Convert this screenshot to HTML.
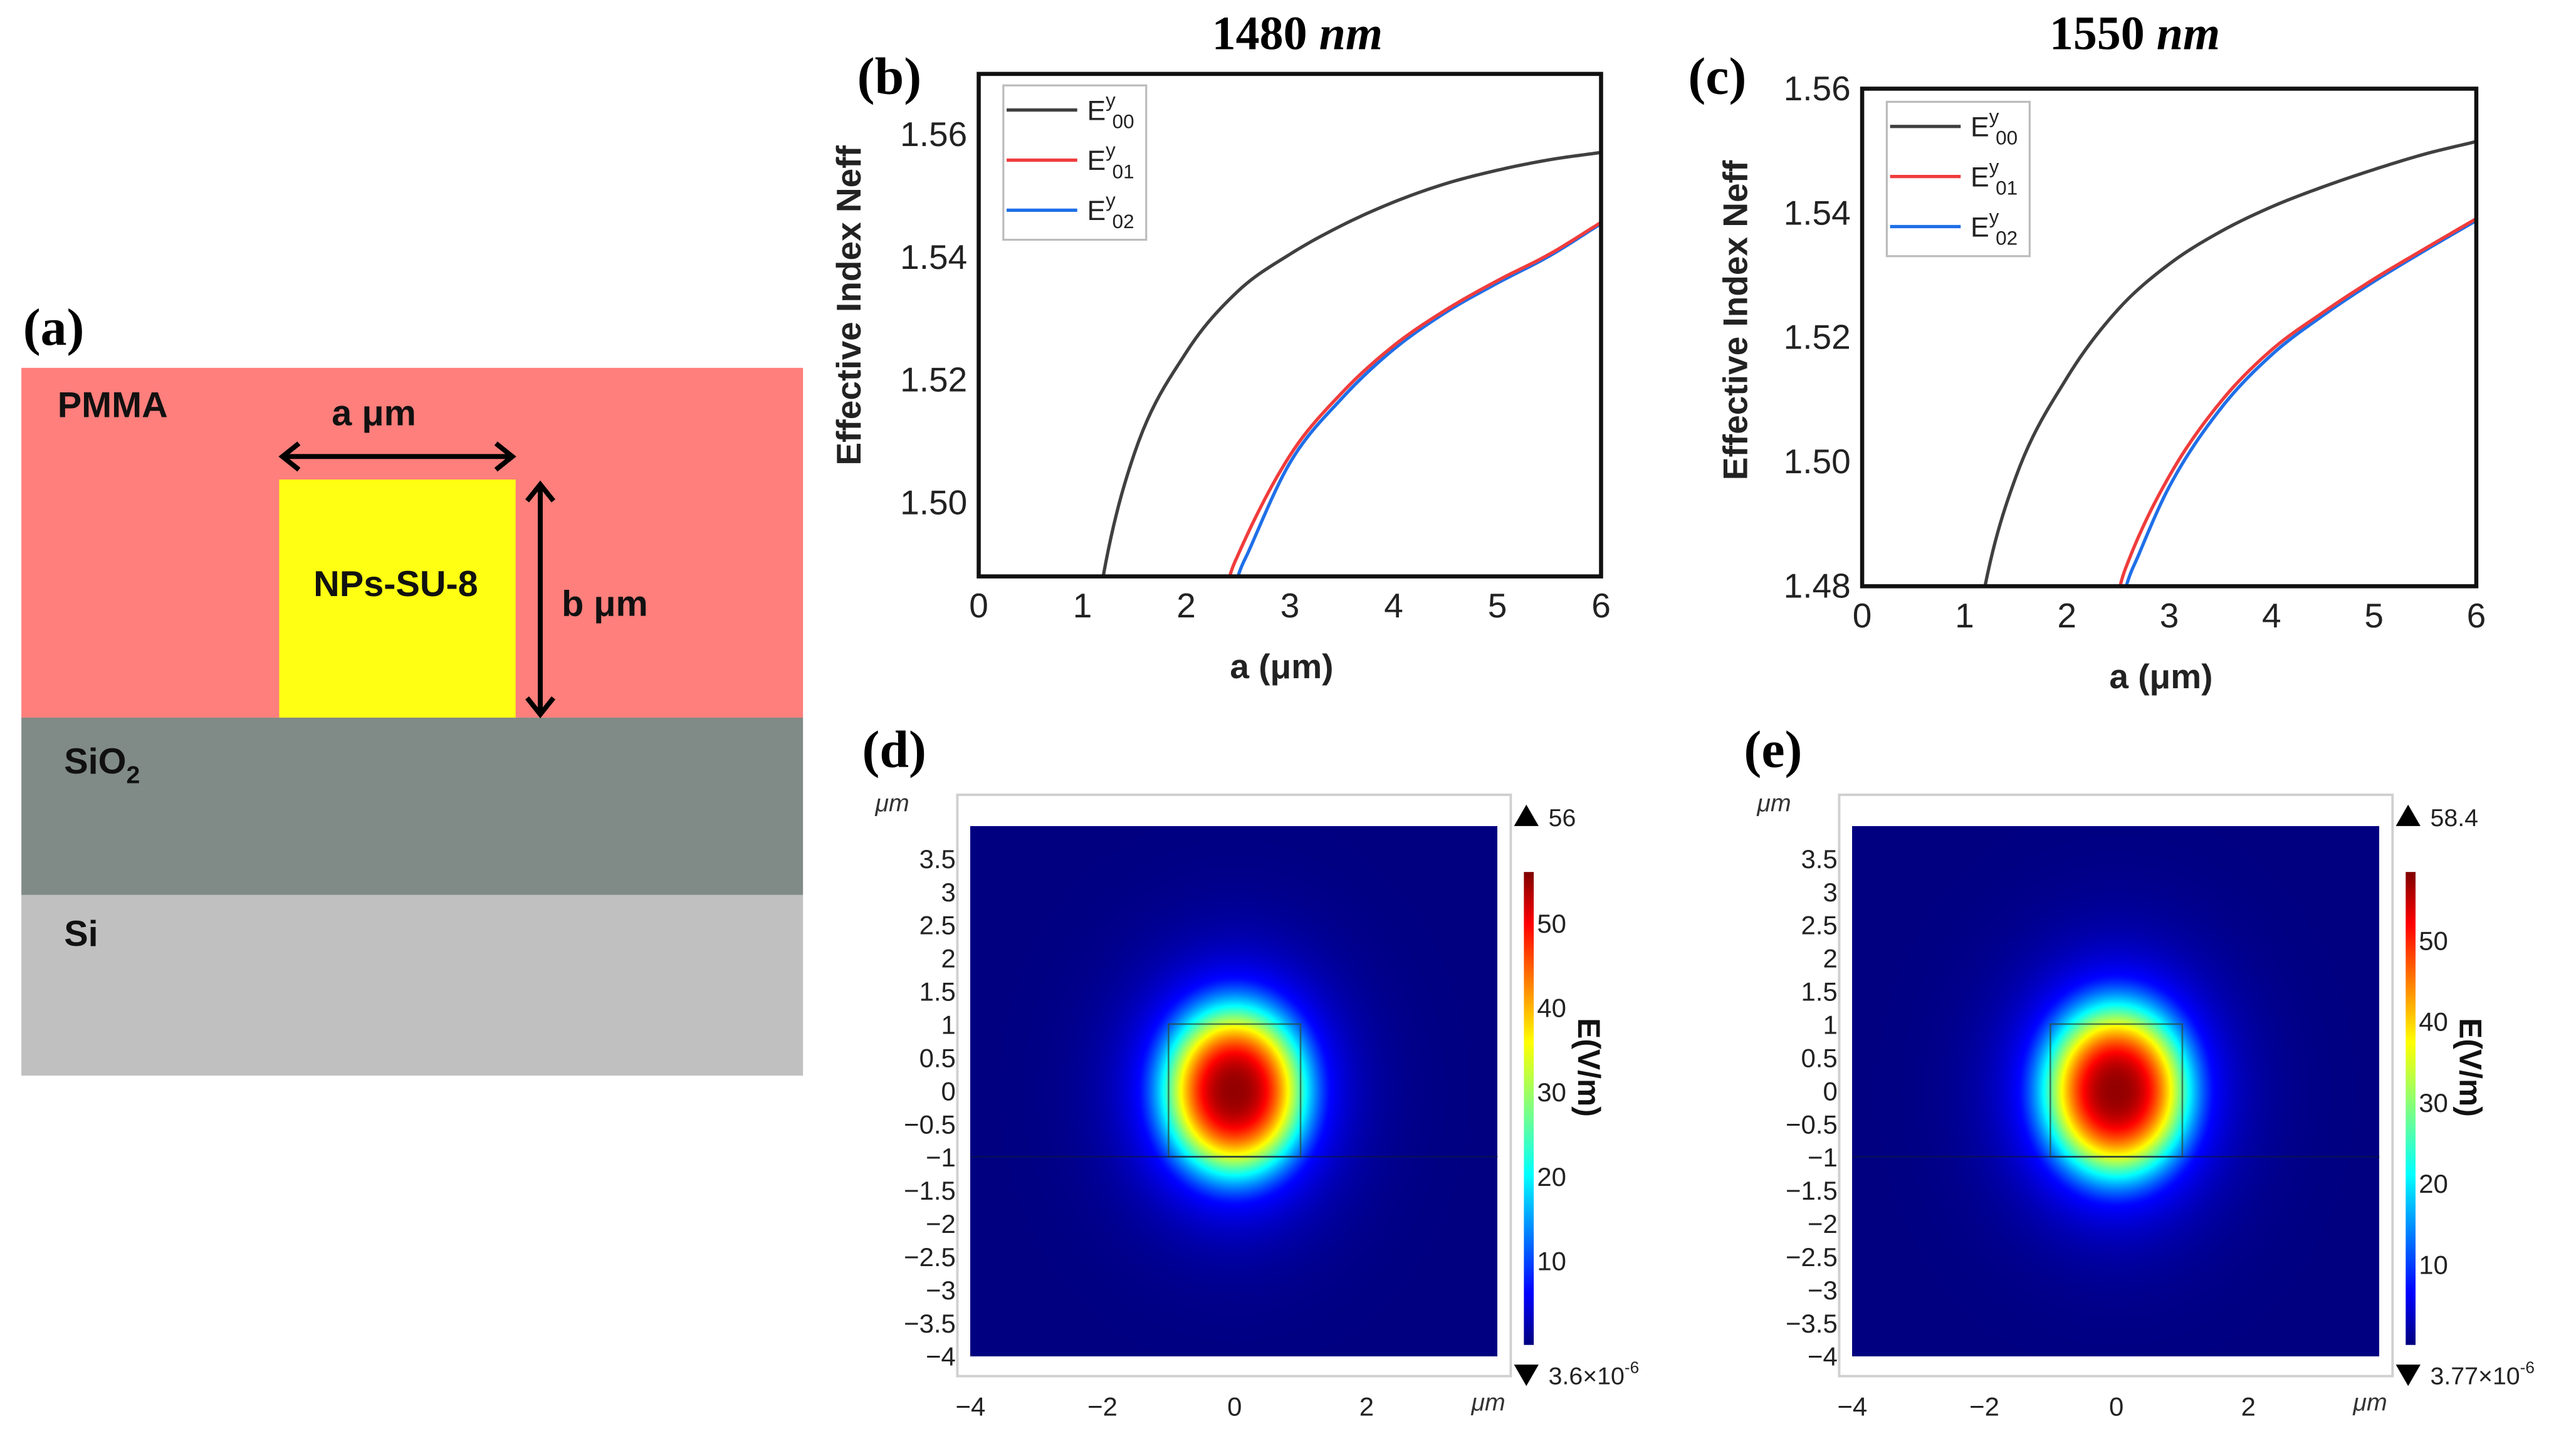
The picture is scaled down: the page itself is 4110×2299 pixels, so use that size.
<!DOCTYPE html>
<html><head><meta charset="utf-8"><style>
html,body{margin:0;padding:0;background:#fff;}
#wrap{position:relative;width:4110px;height:2299px;overflow:hidden;background:#fff;}
svg{position:absolute;left:0;top:0;}
canvas{position:absolute;}
</style></head><body>
<div id="wrap">
<canvas id="cd" width="841" height="846"></canvas>
<canvas id="ce" width="841" height="846"></canvas>
<svg id="fig" width="4110" height="2299" viewBox="0 0 1568.7 877.5" xmlns="http://www.w3.org/2000/svg" font-family="Liberation Sans, sans-serif">
<defs>
<linearGradient id="jet" x1="0" y1="1" x2="0" y2="0">
<stop offset="0" stop-color="#00007f"/><stop offset="0.11" stop-color="#0000ff"/><stop offset="0.36" stop-color="#00ffff"/><stop offset="0.5" stop-color="#7fff7f"/><stop offset="0.64" stop-color="#ffff00"/><stop offset="0.89" stop-color="#ff0000"/><stop offset="1" stop-color="#7f0000"/>
</linearGradient>
</defs>
<g>
<text x="14" y="210" font-family="Liberation Serif, serif" font-weight="bold" font-size="32">(a)</text>
<rect x="13" y="224" width="476" height="213" fill="#fe7f7c"/>
<rect x="13" y="437" width="476" height="108" fill="#808a86"/>
<rect x="13" y="545" width="476" height="110" fill="#c0c0c0"/>
<rect x="170" y="292" width="144" height="145" fill="#ffff14"/>
<g stroke="#000" stroke-width="3" fill="none">
<line x1="172" y1="278" x2="312" y2="278"/><polyline points="182,270 172,278 182,286"/><polyline points="302,270 312,278 302,286"/></g>
<g stroke="#000" stroke-width="3" fill="none">
<line x1="329" y1="295" x2="329" y2="435"/><polyline points="321,305 329,295 337,305"/><polyline points="321,425 329,435 337,425"/></g>
<g font-weight="bold" font-size="22" fill="#111">
<text x="35" y="254">PMMA</text>
<text x="202" y="259">a μm</text>
<text x="241" y="363" text-anchor="middle">NPs-SU-8</text>
<text x="342" y="375">b μm</text>
<text x="39" y="471">SiO<tspan font-size="15" dy="6">2</tspan></text>
<text x="39" y="576">Si</text>
</g>
</g>
<g id="pb"></g>
<g id="pc"></g>
<g id="pd"></g>
<g id="pe"></g>
</svg>
</div>
<script>
// ----- data: panel b (1480 nm) -----
const aB00=[0,1.2,1.5,2,2.5,3,3.5,4,4.5,5,5.5,6];
const nB00=[1.488,1.488,1.5080,1.5245,1.5345,1.5405,1.5452,1.5490,1.5520,1.5542,1.5559,1.5571];
const aB01=[0,2.42,2.5,3,3.5,4,4.5,5,5.5,6];
const nB01=[1.488,1.488,1.4915,1.5077,1.5179,1.5256,1.5314,1.5362,1.5405,1.5457];
const aB02=[0,2.5,2.6,3,3.5,4,4.5,5,5.5,6];
const nB02=[1.488,1.488,1.4920,1.5065,1.5170,1.5250,1.5310,1.5358,1.5402,1.5455];
// ----- data: panel c (1550 nm) -----
const aC00=[0,1.2,1.5,2,2.5,3,3.5,4,4.5,5,5.5,6];
const nC00=[1.48,1.48,1.4975,1.5135,1.5245,1.5318,1.5370,1.5410,1.5442,1.5470,1.5495,1.5515];
const aC01=[0,2.52,2.6,3,3.5,4,4.5,5,5.5,6];
const nC01=[1.48,1.48,1.4840,1.4977,1.5096,1.5180,1.5240,1.5294,1.5343,1.5391];
const aC02=[0,2.58,2.7,3,3.5,4,4.5,5,5.5,6];
const nC02=[1.48,1.48,1.4850,1.4960,1.5085,1.5172,1.5235,1.5290,1.5340,1.5388];
const xTicks=[0,1,2,3,4,5,6];
const yTicksB=[1.50,1.52,1.54,1.56];
const yTicksC=[1.48,1.50,1.52,1.54,1.56];
// ----- data: field maps -----
const fieldPeak=[56,58.4];
const fieldMinLabel=["3.6×10","3.77×10"];
const fieldMaxLabel=["56","58.4"];
const cbTicks=[10,20,30,40,50];
const mapXTicks=[-4,-2,0,2];
const mapYTicks=[3.5,3,2.5,2,1.5,1,0.5,0,-0.5,-1,-1.5,-2,-2.5,-3,-3.5,-4];
const modeSigmaX=[1.1,1.12];
const modeSigmaY=[1.3,1.32];
const modeCenterY=[0.0,0.0];

const NS="http://www.w3.org/2000/svg";
function el(parent,tag,attrs,text){const e=document.createElementNS(NS,tag);for(const k in attrs)e.setAttribute(k,attrs[k]);if(text!==undefined)e.textContent=text;parent.appendChild(e);return e;}

function monotone(xs,ys){
  const n=xs.length,d=[],m=[];
  for(let i=0;i<n-1;i++)d.push((ys[i+1]-ys[i])/(xs[i+1]-xs[i]));
  m[0]=d[0];m[n-1]=d[n-2];
  for(let i=1;i<n-1;i++){m[i]=(d[i-1]*d[i]<=0)?0:(d[i-1]+d[i])/2;}
  for(let i=0;i<n-1;i++){if(d[i]===0){m[i]=0;m[i+1]=0;continue;}
    const a=m[i]/d[i],b=m[i+1]/d[i],s=a*a+b*b;if(s>9){const t=3/Math.sqrt(s);m[i]=t*a*d[i];m[i+1]=t*b*d[i];}}
  for(let i=1;i<n-1;i++){if(d[i-1]===0&&d[i]!==0){m[i]=d[i]*1.4;}}
  const out=[];
  for(let i=0;i<n-1;i++){const h=xs[i+1]-xs[i];
    for(let k=0;k<12;k++){const t=k/12,t2=t*t,t3=t2*t;
      const y=(2*t3-3*t2+1)*ys[i]+(t3-2*t2+t)*h*m[i]+(-2*t3+3*t2)*ys[i+1]+(t3-t2)*h*m[i+1];
      out.push([xs[i]+t*h,y]);}}
  out.push([xs[n-1],ys[n-1]]);return out;
}

function linePanel(g,cfg){
  const X=a=>cfg.x0+(cfg.x1-cfg.x0)*a/6;
  const Y=n=>cfg.y1-(cfg.y1-cfg.y0)*(n-cfg.nmin)/(cfg.nmax-cfg.nmin);
  const t=el(g,'text',{x:cfg.titleX,y:30,'text-anchor':'middle','font-family':'Liberation Serif, serif','font-weight':'bold','font-size':29});
  
  
  t.textContent=cfg.title+' ';
  el(t,'tspan',{'font-style':'italic'},'nm');
  const lb=el(g,'text',{x:cfg.labX,y:57,'font-family':'Liberation Serif, serif','font-weight':'bold','font-size':32},cfg.label);
  
  
  const series=[[cfg.a00,cfg.n00,'#404040'],[cfg.a02,cfg.n02,'#1f6fe8'],[cfg.a01,cfg.n01,'#f03c3c']];
  const names=['series-e00','series-e02','series-e01'];
  series.forEach((s,i)=>{
    const pts=monotone(s[0],s[1]).map(p=>[X(p[0]),Y(Math.max(p[1],cfg.nmin))]);
    const pl=el(g,'polyline',{points:pts.map(p=>p[0].toFixed(2)+','+p[1].toFixed(2)).join(' '),fill:'none',stroke:s[2],'stroke-width':2});
    
    
  });
  const bx=el(g,'rect',{x:cfg.x0,y:cfg.y0,width:cfg.x1-cfg.x0,height:cfg.y1-cfg.y0,fill:'none',stroke:'#111','stroke-width':2.5});
  
  
  xTicks.forEach(v=>{const tx=el(g,'text',{x:X(v),y:cfg.y1+25,'text-anchor':'middle','font-size':21,fill:'#222'},String(v));
    
    });
  cfg.yt.forEach(v=>{const tx=el(g,'text',{x:cfg.x0-7,y:Y(v)+7,'text-anchor':'end','font-size':21,fill:'#222'},v.toFixed(2));
    
    });
  const xl=el(g,'text',{x:(cfg.x0+cfg.x1)/2-5,y:cfg.y1+62,'text-anchor':'middle','font-size':21,'font-weight':'bold',fill:'#222'},'a (μm)');
  
  
  const yl=el(g,'text',{x:0,y:0,'text-anchor':'middle','font-size':21,'font-weight':'bold',fill:'#222',transform:`translate(${cfg.ylX},${cfg.ylY}) rotate(-90)`},'Effective Index Neff');
  
  
  const lg=el(g,'g',{});
  
  
  el(lg,'rect',{x:cfg.lgX,y:cfg.lgY,width:87,height:94,fill:'#fff',stroke:'#bbb','stroke-width':1.2});
  [['00','#404040'],['01','#f03c3c'],['02','#1f6fe8']].forEach((e,i)=>{
    const yy=cfg.lgY+15+i*30.5;
    const le=el(lg,'g',{});
    
    
    el(le,'line',{x1:cfg.lgX+2,y1:yy,x2:cfg.lgX+45,y2:yy,stroke:e[1],'stroke-width':2});
    const tt=el(le,'text',{x:cfg.lgX+51,y:yy+6,'font-size':17,fill:'#222'},'E');
    el(tt,'tspan',{'font-size':12,dy:-8},'y');
    el(tt,'tspan',{'font-size':12,dy:13,dx:-2},e[0]);
  });
}
linePanel(document.getElementById('pb'),{x0:596,x1:975,y0:45,y1:351,nmin:1.488,nmax:1.5699,title:'1480',titleX:790,label:'(b)',labX:522,
  a00:aB00,n00:nB00,a01:aB01,n01:nB01,a02:aB02,n02:nB02,yt:yTicksB,ylX:524,ylY:186,lgX:611,lgY:52});
linePanel(document.getElementById('pc'),{x0:1134,x1:1508,y0:54,y1:357,nmin:1.48,nmax:1.56,title:'1550',titleX:1300,label:'(c)',labX:1028,
  a00:aC00,n00:nC00,a01:aC01,n01:nC01,a02:aC02,n02:nC02,yt:yTicksC,ylX:1064,ylY:195,lgX:1149,lgY:62});

function jet(v){const r=Math.min(Math.max(Math.min(4*v-1.5,-4*v+4.5),0),1);const g=Math.min(Math.max(Math.min(4*v-0.5,-4*v+3.5),0),1);const b=Math.min(Math.max(Math.min(4*v+0.5,-4*v+2.5),0),1);return [r*255,g*255,b*255];}
function mapPanel(g,idx,cfg){
  const X=v=>cfg.fx0+(v+4)*40.2;
  const Y=v=>664-v*40.4;
  const lb=el(g,'text',{x:cfg.fx0-66,y:467,'font-family':'Liberation Serif, serif','font-weight':'bold','font-size':32},cfg.label);
  
  
  const fr=el(g,'rect',{x:cfg.fx0-8,y:484,width:337,height:354,fill:'none',stroke:'#d0d0d0','stroke-width':1.5});
  
  
  const cv=document.getElementById(cfg.canvas);
  cv.style.left=(cfg.fx0*2.62)+'px';cv.style.top=(503*2.62)+'px';
  const ctx=cv.getContext('2d');const img=ctx.createImageData(cv.width,cv.height);
  const W=cv.width,H=cv.height;
  for(let j=0;j<H;j++){const yu=(664-(503+j/H*323))/40.4;
    for(let i=0;i<W;i++){const xu=(i/W*321)/40.2-4;
      const d=Math.sqrt((xu/modeSigmaX[idx])**2+((yu-modeCenterY[idx])/modeSigmaY[idx])**2);
      let f=Math.exp(-Math.pow(d,2.6));
      if(d>1.3){f=Math.exp(-Math.pow(1.3,2.6))*Math.exp(-2.2*(d-1.3));}
      const c=jet(f*0.98);const p=(j*W+i)*4;img.data[p]=c[0];img.data[p+1]=c[1];img.data[p+2]=c[2];img.data[p+3]=255;}}
  ctx.putImageData(img,0,0);
  const wg=el(g,'rect',{x:X(-1),y:Y(1),width:X(1)-X(-1),height:Y(-1)-Y(1),fill:'none',stroke:'#2a4a3a','stroke-width':1,opacity:0.7});
  
  
  const sl=el(g,'line',{x1:cfg.fx0,y1:Y(-1),x2:cfg.fx0+321,y2:Y(-1),stroke:'#101840','stroke-width':1,opacity:0.6});
  
  
  mapYTicks.forEach(v=>{const t=el(g,'text',{x:cfg.fx0-9,y:Y(v)+6,'text-anchor':'end','font-size':16,fill:'#222'},String(v).replace('-','−'));
    
    });
  mapXTicks.forEach(v=>{const t=el(g,'text',{x:X(v),y:862,'text-anchor':'middle','font-size':16,fill:'#222'},String(v).replace('-','−'));
    
    });
  const u1=el(g,'text',{x:cfg.fx0-58,y:494,'font-size':15,'font-style':'italic',fill:'#333'},'μm');
  
  
  const u2=el(g,'text',{x:cfg.fx0+305,y:859,'font-size':15,'font-style':'italic',fill:'#333'},'μm');
  
  
  const peak=fieldPeak[idx];const cb0=819,cbTop=531;
  const CY=v=>cb0-(cb0-cbTop)*v/peak;
  const cb=el(g,'rect',{x:cfg.cbx,y:cbTop,width:6,height:cb0-cbTop,fill:'url(#jet)'});
  
  
  cbTicks.forEach(v=>{const t=el(g,'text',{x:cfg.cbx+8,y:CY(v)+6,'font-size':16,fill:'#222'},String(v));
    
    });
  const up=el(g,'polygon',{points:`${cfg.cbx-6},503 ${cfg.cbx+9},503 ${cfg.cbx+1.5},490`,fill:'#000'});
  
  
  const ut=el(g,'text',{x:cfg.cbx+15,y:503,'font-size':15,fill:'#222'},fieldMaxLabel[idx]);
  
  
  const dn=el(g,'polygon',{points:`${cfg.cbx-6},831 ${cfg.cbx+9},831 ${cfg.cbx+1.5},844`,fill:'#000'});
  
  
  const dt=el(g,'text',{x:cfg.cbx+15,y:843,'font-size':15,fill:'#222'},fieldMinLabel[idx]);
  el(dt,'tspan',{'font-size':10,dy:-7},'-6');
  
  
  const et=el(g,'text',{x:0,y:0,'text-anchor':'middle','font-size':19,'font-weight':'bold',fill:'#111',transform:`translate(${cfg.cbx+33},${650}) rotate(90)`},'E(V/m)');
  
  
}
mapPanel(document.getElementById('pd'),0,{fx0:591,cbx:928,label:'(d)',canvas:'cd'});
mapPanel(document.getElementById('pe'),1,{fx0:1128,cbx:1465,label:'(e)',canvas:'ce'});
</script>
</body></html>
